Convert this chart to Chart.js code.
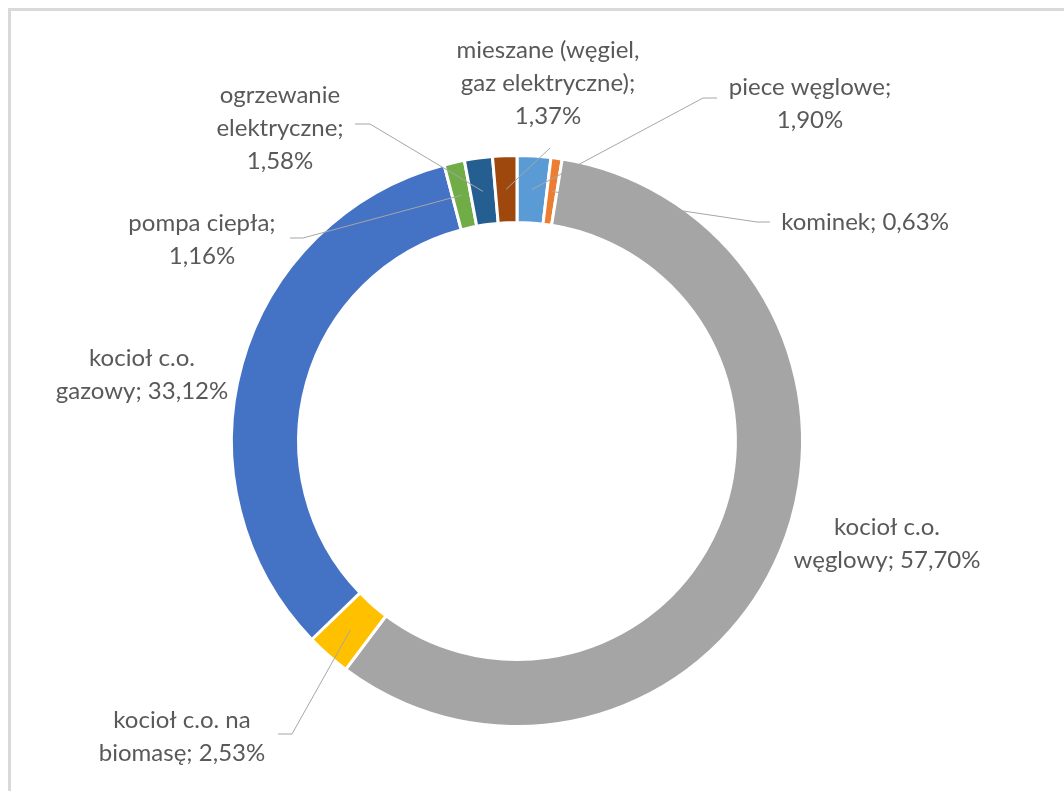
<!DOCTYPE html>
<html>
<head>
<meta charset="utf-8">
<script src="https://cdn.jsdelivr.net/npm/chart.js@4.4.1/dist/chart.umd.min.js"></script>
<style>
    html, body { margin: 0; padding: 0; background: #fff; overflow: hidden; }
    #frame { position: absolute; left: 8px; top: 8px; width: 1200px; height: 900px;
             border-left: 3px solid #d9d9d9; border-top: 3px solid #d9d9d9; }
    #chart { position: absolute; left: 0; top: 0; }
</style>
</head>
<body>
<div id="frame"></div>
<canvas id="chart" width="1064" height="791"></canvas>
<script>
// --- Data (clockwise from 12 o'clock) ---
const categories = [
    'piece węglowe',
    'kominek',
    'kocioł c.o. węglowy',
    'kocioł c.o. na biomasę',
    'kocioł c.o. gazowy',
    'pompa ciepła',
    'ogrzewanie elektryczne',
    'mieszane (węgiel, gaz elektryczne)'
];
const shares = [1.90, 0.63, 57.70, 2.53, 33.12, 1.16, 1.58, 1.37];
const sliceColors = ['#5B9BD5', '#ED7D31', '#A5A5A5', '#FFC000', '#4472C4', '#70AD47', '#255E91', '#9E480E'];

// --- Label layout: words per line, text centre, leader line start/elbow ---
const labelLayout = [
    { words: [2, 1],    x: 810, y: 87,  lead: [[717, 98], [703, 98]] },
    { words: [2],       x: 865, y: 222, lead: [[770, 222], [757, 222]] },
    { words: [2, 2],    x: 887, y: 527, lead: null },
    { words: [3, 2],    x: 182, y: 720, lead: [[278, 734], [292, 734]] },
    { words: [2, 2],    x: 142, y: 358, lead: null },
    { words: [2, 1],    x: 202, y: 223, lead: [[290, 238], [303, 238]] },
    { words: [1, 1, 1], x: 280, y: 95,  lead: [[355, 124], [370, 124]] },
    { words: [2, 2, 1], x: 548, y: 50,  lead: [[550, 148]] }
];
const lineHeight = 33;

function labelLines(i) {
    const pct = shares[i].toFixed(2).replace('.', ',') + '%';
    const words = (categories[i] + '; ' + pct).split(' ');
    const lines = [];
    let k = 0;
    labelLayout[i].words.forEach(n => { lines.push(words.slice(k, k + n).join(' ')); k += n; });
    return lines;
}

const pieLabels = {
    id: 'pieLabels',
    afterDraw(chart) {
        const ctx = chart.ctx;
        const arcs = chart.getDatasetMeta(0).data;
        ctx.save();
        // leader lines
        ctx.strokeStyle = '#a6a6a6';
        ctx.lineWidth = 1;
        arcs.forEach((arc, i) => {
            const lead = labelLayout[i].lead;
            if (!lead) return;
            const r = (arc.innerRadius + arc.outerRadius) / 2;
            const a = (arc.startAngle + arc.endAngle) / 2;
            const px = arc.x + Math.cos(a) * r;
            const py = arc.y + Math.sin(a) * r;
            ctx.beginPath();
            ctx.moveTo(lead[0][0], lead[0][1]);
            for (let j = 1; j < lead.length; j++) ctx.lineTo(lead[j][0], lead[j][1]);
            ctx.lineTo(px, py);
            ctx.stroke();
        });
        // texts
        ctx.fillStyle = '#595959';
        ctx.font = '24px Lato, "Open Sans", sans-serif';
        ctx.textAlign = 'center';
        ctx.textBaseline = 'middle';
        labelLayout.forEach((lay, i) => {
            labelLines(i).forEach((line, j) => ctx.fillText(line, lay.x, lay.y + j * lineHeight));
        });
        ctx.restore();
    }
};

new Chart(document.getElementById('chart').getContext('2d'), {
    type: 'doughnut',
    data: {
        labels: categories,
        datasets: [{ data: shares, backgroundColor: sliceColors, borderColor: '#ffffff', borderWidth: 3 }]
    },
    options: {
        responsive: false,
        animation: false,
        cutout: '76.5%',
        layout: { padding: { left: 230, right: 260, top: 154, bottom: 63 } },
        plugins: { legend: { display: false }, tooltip: { enabled: false } }
    },
    plugins: [pieLabels]
});
</script>
</body>
</html>
